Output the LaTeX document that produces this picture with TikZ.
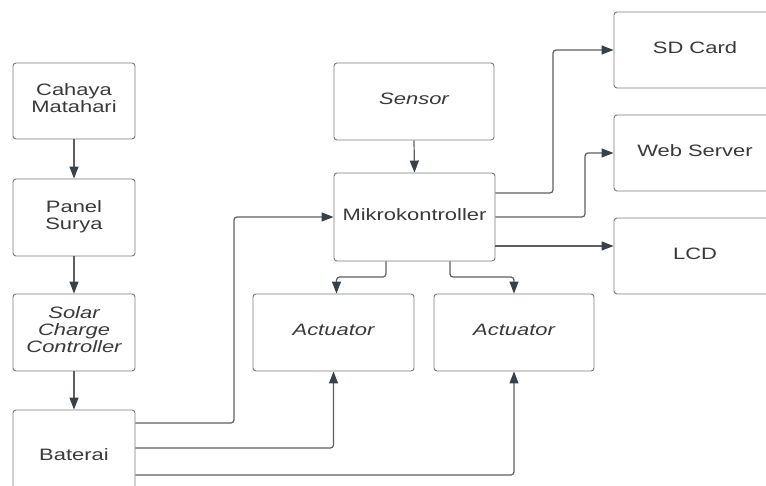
\documentclass[tikz,border=0pt]{standalone}
\usepackage{fontspec}
\setmainfont{Liberation Sans}
\usetikzlibrary{arrows.meta,calc}
\definecolor{txtc}{HTML}{3A3A3A}
\definecolor{boxc}{HTML}{7A7A7A}
\definecolor{linec}{HTML}{5E5E5E}
\definecolor{arrc}{HTML}{38404A}
\newcommand\wtxt[1]{\scalebox{1.33}[1]{\begin{tabular}{@{}c@{}}#1\end{tabular}}}
\begin{document}
\begin{tikzpicture}[x=1pt,y=-1pt,
  box/.style={draw=boxc, line width=0.9pt, rounded corners=3pt, inner sep=0pt, fill=white,
    text=txtc, font=\fontsize{16.5}{17}\selectfont},
  conn/.style={draw=linec, line width=1.2pt, rounded corners=3pt,
    -{Triangle[length=12pt,width=9pt,color=arrc]}}]
\useasboundingbox (0,0) rectangle (766,485);
\fill[white] (0,0) rectangle (766,485);

\node[box, minimum width=122pt, minimum height=76pt] (cm) at (74,101) {\wtxt{Cahaya\\Matahari}};
\node[box, minimum width=122pt, minimum height=77pt] (ps) at (74,217.5) {\wtxt{Panel\\Surya}};
\node[box, minimum width=122pt, minimum height=77pt] (scc) at (74,332.5) {\wtxt{\itshape Solar\\\itshape Charge\\\itshape Controller}};
\node[box, minimum width=122pt, minimum height=95pt] (bat) at (74,457.5) {\wtxt{Baterai}};

\node[box, minimum width=160pt, minimum height=77pt] (sensor) at (414,101.5) {\wtxt{\itshape Sensor}};
\node[box, minimum width=161pt, minimum height=88pt] (mikro) at (414.5,217) {\wtxt{Mikrokontroller}};
\node[box, minimum width=161pt, minimum height=77pt] (act1) at (333.5,332.5) {\wtxt{\itshape Actuator}};
\node[box, minimum width=160pt, minimum height=77pt] (act2) at (514,332.5) {\wtxt{\itshape Actuator}};

\node[box, minimum width=162pt, minimum height=76pt] (sd) at (695,50) {\wtxt{SD Card}};
\node[box, minimum width=162pt, minimum height=76pt] (web) at (695,153) {\wtxt{Web Server}};
\node[box, minimum width=162pt, minimum height=76pt] (lcd) at (695,256) {\wtxt{LCD}};

\draw[conn] (cm.south) -- (ps.north);
\draw[conn] (ps.south) -- (scc.north);
\draw[conn] (scc.south) -- (bat.north);
\draw[conn] (sensor.south) -- (mikro.north);

\draw[conn] (bat.east |- 0,423) -- (234,423) |- (mikro.west);
\draw[conn] (bat.east |- 0,448) -| (act1.south);
\draw[conn] (bat.east |- 0,475) -| (act2.south);

\draw[conn] (mikro.south -| 386,0) -- (386,277) -| ([xshift=3pt]act1.north);
\draw[conn] (mikro.south -| 450,0) -- (450,277) -| (act2.north);

\draw[conn] (mikro.east |- 0,193) -- (553,193) |- (sd.west);
\draw[conn] (mikro.east |- 0,217) -- (585,217) |- (web.west);
\draw[conn] (mikro.east |- 0,246) -- (lcd.west |- 0,246);
\end{tikzpicture}
\end{document}
